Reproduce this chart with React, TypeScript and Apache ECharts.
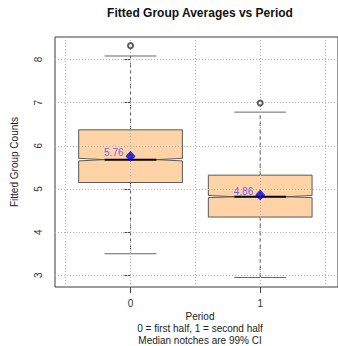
import React, { useEffect, useRef } from "react";
import * as echarts from "echarts";

const periods = [0, 1];
const lowerWhisker = [3.5, 2.95];
const q1 = [5.15, 4.35];
const notchLow = [5.65, 4.8];
const median = [5.68, 4.82];
const notchHigh = [5.71, 4.85];
const q3 = [6.37, 5.32];
const upperWhisker = [8.08, 6.78];
const means = [5.76, 4.86];
const outliers: [number, number][] = [
  [0, 8.32],
  [1, 6.99],
];
const yTicks = [3, 4, 5, 6, 7, 8];
const xTicks = [0, 1];
const xGrid = [-0.5, 0, 0.5, 1, 1.5];

const FONT = "Liberation Sans, Arial, sans-serif";

export default function App() {
  const ref = useRef<HTMLDivElement>(null);
  useEffect(() => {
    if (!ref.current) return;
    const chart = echarts.init(ref.current, undefined, { renderer: "svg" });
    const boxData = periods.map((p, i) => [
      p,
      lowerWhisker[i],
      q1[i],
      notchLow[i],
      median[i],
      notchHigh[i],
      q3[i],
      upperWhisker[i],
    ]);
    const BW = 0.4;
    const NW = 0.2;
    const CW = 0.2;
    const renderItem = (params: any, api: any) => {
      const x = api.value(0);
      const lw = api.value(1);
      const b1 = api.value(2);
      const nl = api.value(3);
      const md = api.value(4);
      const nh = api.value(5);
      const b3 = api.value(6);
      const uw = api.value(7);
      const c = (xx: number, yy: number) => api.coord([xx, yy]);
      const whiskerStyle = { stroke: "#555", lineWidth: 1, lineDash: [4, 3] };
      const capStyle = { stroke: "#666", lineWidth: 1 };
      return {
        type: "group",
        children: [
          {
            type: "line",
            shape: { x1: c(x, b3)[0], y1: c(x, b3)[1], x2: c(x, uw)[0], y2: c(x, uw)[1] },
            style: whiskerStyle,
          },
          {
            type: "line",
            shape: { x1: c(x, b1)[0], y1: c(x, b1)[1], x2: c(x, lw)[0], y2: c(x, lw)[1] },
            style: whiskerStyle,
          },
          {
            type: "line",
            shape: { x1: c(x - CW, uw)[0], y1: c(x - CW, uw)[1], x2: c(x + CW, uw)[0], y2: c(x + CW, uw)[1] },
            style: capStyle,
          },
          {
            type: "line",
            shape: { x1: c(x - CW, lw)[0], y1: c(x - CW, lw)[1], x2: c(x + CW, lw)[0], y2: c(x + CW, lw)[1] },
            style: capStyle,
          },
          {
            type: "polygon",
            shape: {
              points: [
                c(x - BW, b1),
                c(x - BW, nl),
                c(x - NW, md),
                c(x - BW, nh),
                c(x - BW, b3),
                c(x + BW, b3),
                c(x + BW, nh),
                c(x + NW, md),
                c(x + BW, nl),
                c(x + BW, b1),
              ],
            },
            style: { fill: "#FFD3A6", stroke: "#5a5a5a", lineWidth: 1 },
          },
          {
            type: "line",
            shape: { x1: c(x - NW, md)[0], y1: c(x - NW, md)[1], x2: c(x + NW, md)[0], y2: c(x + NW, md)[1] },
            style: { stroke: "#000", lineWidth: 2 },
          },
        ],
      };
    };

    const markData: any[] = [
      ...xGrid.map((v) => ({ xAxis: v })),
      ...yTicks.map((v) => ({ yAxis: v })),
    ];

    chart.setOption({
      animation: false,
      textStyle: { fontFamily: FONT },
      grid: {
        left: 55,
        top: 37,
        width: 290,
        height: 250,
        show: true,
        borderColor: "#3a3a3a",
        borderWidth: 1,
        backgroundColor: "transparent",
      },
      title: {
        text: "Fitted Group Averages vs Period",
        left: 200,
        textAlign: "center",
        top: 7,
        padding: 0,
        textStyle: { fontFamily: FONT, fontSize: 12, fontWeight: "bold", color: "#111" },
      },
      xAxis: {
        type: "value",
        min: -0.5825,
        max: 1.6,
        axisLine: { show: false },
        splitLine: { show: false },
        axisTick: { show: true, customValues: xTicks, length: 6, lineStyle: { color: "#444" } },
        axisLabel: {
          customValues: xTicks,
          margin: 11,
          fontSize: 10,
          color: "#333",
          fontFamily: FONT,
        },
      },
      yAxis: {
        type: "value",
        min: 2.73,
        max: 8.52,
        axisLine: { show: false },
        splitLine: { show: false },
        axisTick: { show: true, customValues: yTicks, length: 7, lineStyle: { color: "#444" } },
        axisLabel: {
          customValues: yTicks,
          rotate: 90,
          margin: 12,
          fontSize: 10,
          color: "#333",
          fontFamily: FONT,
        },
      },
      graphic: [
        {
          type: "text",
          x: 14,
          y: 162,
          rotation: Math.PI / 2,
          style: {
            text: "Fitted Group Counts",
            fontSize: 10,
            fontFamily: FONT,
            fill: "#222",
            textAlign: "center",
            textVerticalAlign: "middle",
          },
        },
        {
          type: "text",
          x: 200,
          y: 316,
          style: { text: "Period", fontSize: 10, fontFamily: FONT, fill: "#222", textAlign: "center", textVerticalAlign: "middle" },
        },
        {
          type: "text",
          x: 200,
          y: 328,
          style: {
            text: "0 = first half, 1 = second half",
            fontSize: 10,
            fontFamily: FONT,
            fill: "#222",
            textAlign: "center",
            textVerticalAlign: "middle",
          },
        },
        {
          type: "text",
          x: 200,
          y: 340,
          style: {
            text: "Median notches are 99% CI",
            fontSize: 10,
            fontFamily: FONT,
            fill: "#222",
            textAlign: "center",
            textVerticalAlign: "middle",
          },
        },
      ],
      series: [
        {
          type: "custom",
          renderItem,
          data: boxData,
          encode: { x: 0, y: [1, 2, 3, 4, 5, 6, 7] },
          z: 2,
          silent: true,
          markLine: {
            silent: true,
            symbol: ["none", "none"],
            label: { show: false },
            lineStyle: { color: "#b0b0b0", type: [1, 2], width: 1 },
            data: markData,
            z: 5,
          },
        },
        {
          type: "scatter",
          data: outliers,
          symbol: "emptyCircle",
          symbolSize: 5,
          itemStyle: { color: "#333", borderColor: "#333", borderWidth: 1 },
          z: 6,
        },
        {
          type: "scatter",
          data: periods.map((p, i) => [p, means[i]]),
          symbol: "diamond",
          symbolSize: [10, 11],
          itemStyle: { color: "#0000dd" },
          z: 7,
          label: {
            show: true,
            position: "left",
            distance: 2,
            offset: [0, -4],
            formatter: (p: any) => p.value[1].toFixed(2),
            color: "#4545ff",
            fontSize: 10,
            fontFamily: FONT,
          },
        },
      ],
    });
    return () => chart.dispose();
  }, []);
  return (
    <div
      ref={ref}
      style={{ position: "fixed", left: 0, top: 0, width: 338, height: 346, background: "#fff" }}
    />
  );
}
